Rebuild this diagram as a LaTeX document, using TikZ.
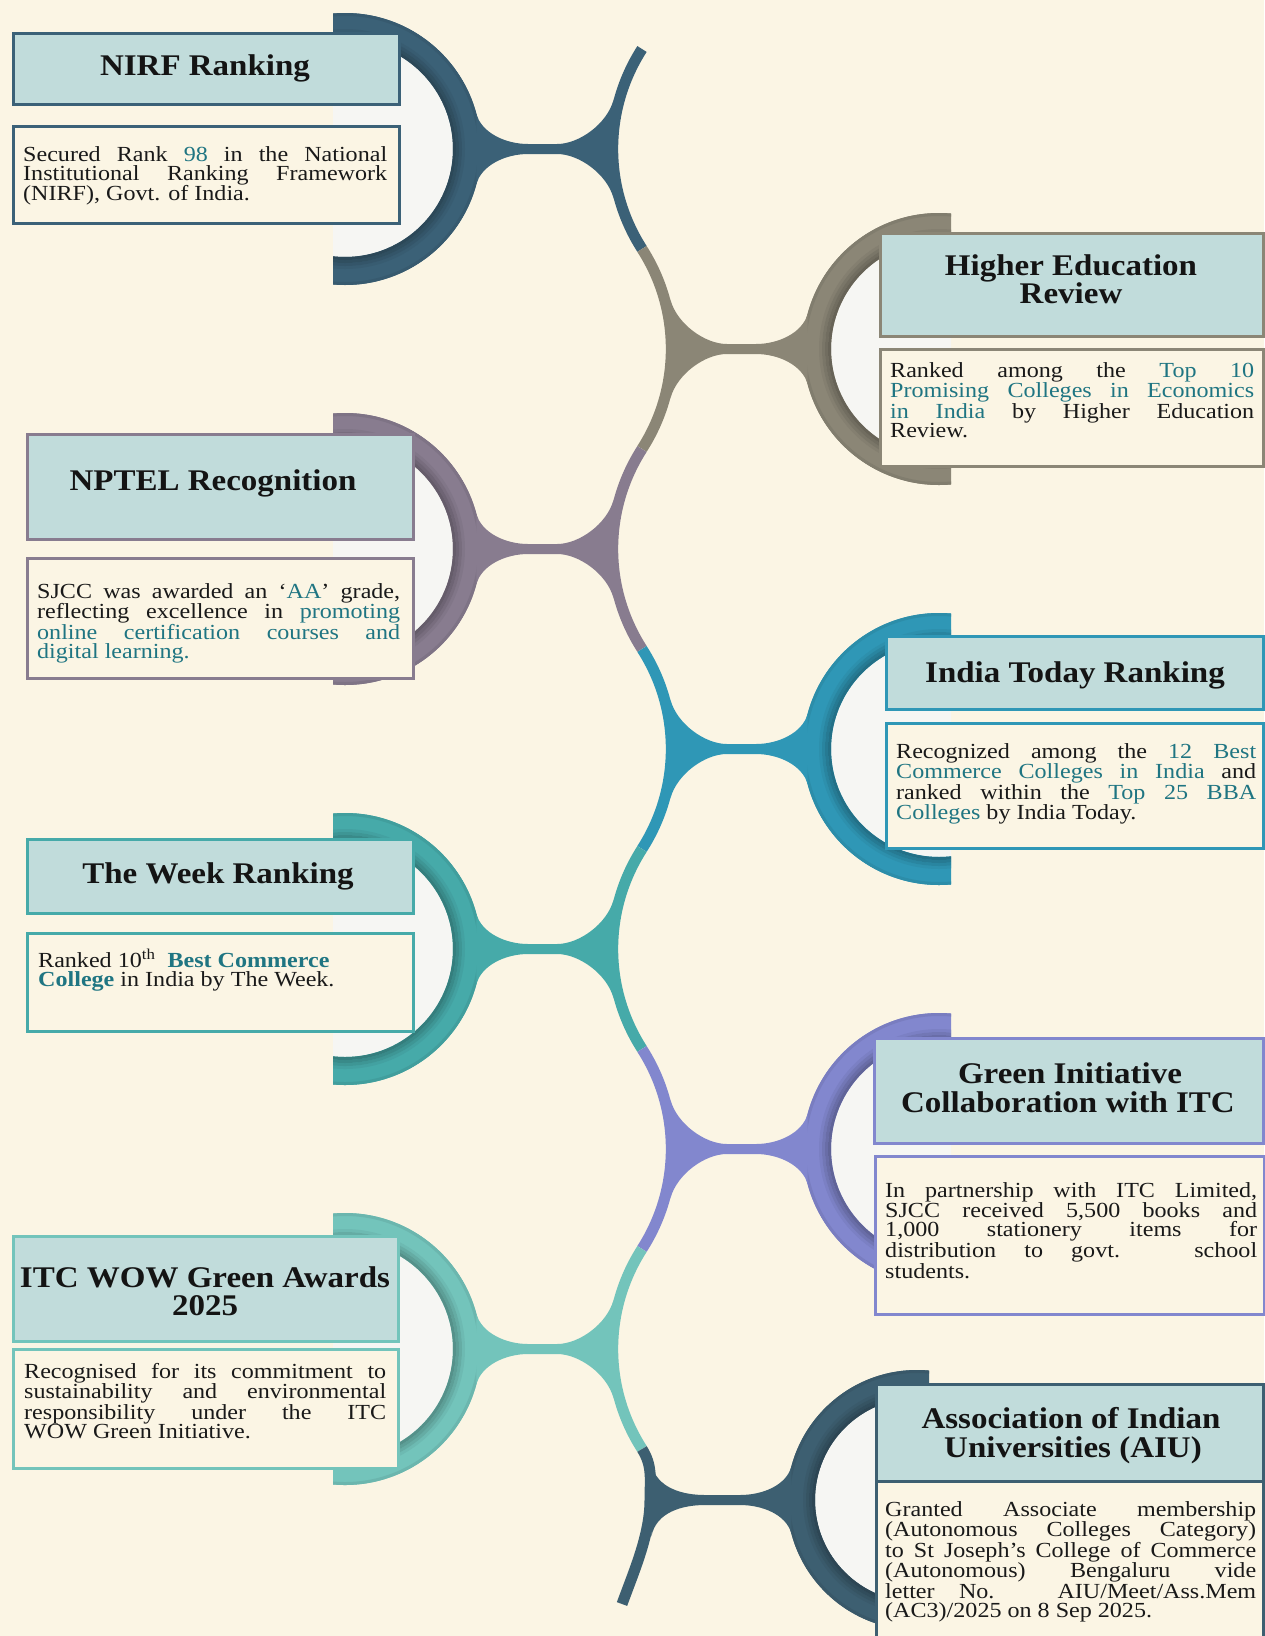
\documentclass[tikz,border=0pt]{standalone}
\usepackage{fontspec}
\setmainfont{Liberation Serif}[FakeStretch=1.12]
\newfontfamily\ttlfont{Liberation Serif}[FakeStretch=1.1]
\usetikzlibrary{calc}
\definecolor{bg}{HTML}{FBF5E4}
\definecolor{disk}{HTML}{F6F6F3}
\definecolor{tfill}{HTML}{C1DCDB}
\definecolor{hlc}{HTML}{1F7582}
\definecolor{cA}{HTML}{3B6177}
\definecolor{cB}{HTML}{8B8676}
\definecolor{cC}{HTML}{887C8F}
\definecolor{cD}{HTML}{2F97B6}
\definecolor{cE}{HTML}{46AAA9}
\definecolor{cF}{HTML}{8287CE}
\definecolor{cG}{HTML}{73C4BB}
\definecolor{cH}{HTML}{3D5F71}
\newcommand\hlt[1]{\textcolor{hlc}{#1}}
\newcommand\desctext[3]{\parbox[t]{#1}{\fontsize{21.5}{#2}\selectfont\tolerance=10000\hyphenpenalty=10000\relax #3}}
% ring in left orientation: cx, cy, Rout, Rin, cut x, colour
\newcommand\ringL[6]{%
  \begin{scope}
    \clip (#5,#2-#3-3) rectangle (#1+#3+3,#2+#3+3);
    \fill[disk] (#1,#2) circle[radius=#4];
    \fill[#6,even odd rule] (#1,#2) circle[radius=#3] (#1,#2) circle[radius=#4];
    \draw[#6!95!black, line width=3pt] (#1,#2) circle[radius=#4+10.5];
    \draw[#6!88!black, line width=3pt] (#1,#2) circle[radius=#4+7.5];
    \draw[#6!81!black, line width=3pt] (#1,#2) circle[radius=#4+4.5];
    \draw[#6!74!black, line width=3pt] (#1,#2) circle[radius=#4+1.5];
    \draw[#6!93!black, line width=3pt] (#1,#2) circle[radius=#3-1.5];
  \end{scope}}
% neck: cy, ring cx, ring R, spine cx, spine edge radius, colour, spine contact angle
\newcommand\neckL[7]{%
  \fill[#6] ($(#2,#1)+(-15:#3)$) .. controls +(75:20) and +(-22,0) .. ($(#2,#1)+(#3+47,-5)$)
    -- ($(#4,#1)+(-#5-50,-5)$) .. controls +(22,0) and +(90+#7:25) .. ($(#4,#1)+(180+#7:#5)$)
    -- ($(#4,#1)+(180-#7:#5)$) .. controls +(-90-#7:25) and +(22,0) .. ($(#4,#1)+(-#5-50,5)$)
    -- ($(#2,#1)+(#3+47,5)$) .. controls +(-22,0) and +(-75:20) .. ($(#2,#1)+(15:#3)$) -- cycle;}
\newcommand\itemL[2]{%
  \ringL{345}{#1}{136}{108}{333}{#2}%
  \neckL{#1}{345}{136}{797.6}{190.5}{#2}{15}%
  \draw[spine,#2] (642,#1-100) arc[start angle=212.7,end angle=147.3,radius=185];}
\tikzset{
  tbox/.style={draw=#1, fill=tfill, line width=3pt, inner sep=0pt, anchor=north west},
  dbox/.style={draw=#1, fill=bg, line width=3pt, inner sep=0pt, anchor=north west},
  spine/.style={line width=11pt, line cap=butt},
  ttl/.style={font=\ttlfont\fontsize{30}{30}\selectfont\bfseries, text=black!92, inner sep=0pt, anchor=base},
  dsc/.style={inner sep=0pt, anchor=base west, text=black!90},
}
\begin{document}
\begin{tikzpicture}[x=1pt,y=-1pt]
\useasboundingbox (0,0) rectangle (1264,1636);
\fill[bg] (0,0) rectangle (1264,1636);
% ---- decorative spine, rings and necks ----
\itemL{149}{cA}
\begin{scope}[shift={(1284,0)},xscale=-1]\itemL{349}{cB}\end{scope}
\itemL{549}{cC}
\begin{scope}[shift={(1284,0)},xscale=-1]\itemL{749}{cD}\end{scope}
\itemL{949}{cE}
\begin{scope}[shift={(1284,0)},xscale=-1]\itemL{1149}{cF}\end{scope}
\itemL{1349}{cG}
\begin{scope}[shift={(1262,0)},xscale=-1]
  \ringL{345}{1500}{130}{102}{333}{cH}
  \neckL{1500}{345}{130}{797.6}{190.5}{cH}{11}
\end{scope}
\draw[spine,cH] (642,1449) .. controls +(10.8,16.8) and +(0,-20) .. (650,1500)
   .. controls +(0,35) and +(12,-33) .. (622,1604);
% ---- boxes ----
\node[tbox=cA, minimum width=386pt, minimum height=71pt] (t1) at (12,32) {};
\node[dbox=cA, minimum width=386pt, minimum height=97pt] (d1) at (12,125) {};
\node[tbox=cB, minimum width=383pt, minimum height=103pt] (t2) at (879,232) {};
\node[dbox=cB, minimum width=383pt, minimum height=117pt] (d2) at (879,348) {};
\node[tbox=cC, minimum width=386pt, minimum height=105pt] (t3) at (26,433) {};
\node[dbox=cC, minimum width=386pt, minimum height=120pt] (d3) at (26,557) {};
\node[tbox=cD, minimum width=377pt, minimum height=73pt] (t4) at (885,635) {};
\node[dbox=cD, minimum width=377pt, minimum height=125pt] (d4) at (885,722) {};
\node[tbox=cE, minimum width=386pt, minimum height=74pt] (t5) at (26,838) {};
\node[dbox=cE, minimum width=386pt, minimum height=98pt] (d5) at (26,932) {};
\node[tbox=cF, minimum width=389pt, minimum height=105pt] (t6) at (873,1037) {};
\node[dbox=cF, minimum width=389pt, minimum height=158pt] (d6) at (874,1155) {};
\node[tbox=cG, minimum width=385pt, minimum height=105pt] (t7) at (12,1235) {};
\node[dbox=cG, minimum width=385pt, minimum height=119pt] (d7) at (12,1348) {};
\node[tbox=cH, minimum width=387pt, minimum height=97pt] (t8) at (875,1383) {};
\node[dbox=cH, minimum width=387pt, minimum height=170pt] (d8) at (875,1480) {};
% ---- titles ----
\node[ttl] (tt1) at (205,75) {NIRF Ranking};
\node[ttl] (tt2a) at (1071,275) {Higher Education};
\node[ttl] (tt2b) at (1071,303) {Review};
\node[ttl] (tt3) at (213,490) {NPTEL Recognition};
\node[ttl] (tt4) at (1075,682) {India Today Ranking};
\node[ttl] (tt5) at (218,883) {The Week Ranking};
\node[ttl] (tt6a) at (1070,1083) {Green Initiative};
\node[ttl] (tt6b) at (1068,1112) {Collaboration with ITC};
\node[ttl] (tt7a) at (205,1287) {ITC WOW Green Awards};
\node[ttl] (tt7b) at (205,1315) {2025};
\node[ttl] (tt8a) at (1071,1428) {Association of Indian};
\node[ttl] (tt8b) at (1073,1457) {Universities (AIU)};
% ---- descriptions ----
\node[dsc] (x1) at (23,161) {\desctext{364pt}{19}{Secured Rank \hlt{98} in the National\linebreak Institutional Ranking Framework\linebreak (NIRF), Govt. of India.}};
\node[dsc] (x2) at (890,377) {\desctext{364pt}{19}{Ranked among the \hlt{Top 10}\linebreak \hlt{Promising Colleges in Economics}\linebreak \hlt{in India} by Higher Education\linebreak Review.}};
\node[dsc] (x3) at (37,598) {\desctext{363pt}{19}{SJCC was awarded an `\hlt{AA}' grade,\linebreak reflecting excellence in \hlt{promoting}\linebreak \hlt{online certification courses and}\linebreak \hlt{digital learning.}}};
\node[dsc] (x4) at (896,758) {\desctext{360pt}{19}{Recognized among the \hlt{12 Best}\linebreak \hlt{Commerce Colleges in India} and\linebreak ranked within the \hlt{Top 25 BBA}\linebreak \hlt{Colleges} by India Today.}};
\node[dsc] (x5) at (38,967) {\desctext{360pt}{19}{\raggedright Ranked 10\textsuperscript{th}\ \ \hlt{\textbf{Best Commerce}}\\ \hlt{\textbf{College}} in India by The Week.}};
\node[dsc] (x6) at (885,1197) {\desctext{372pt}{17.5}{In partnership with ITC Limited,\linebreak SJCC received 5,500 books and\linebreak 1,000 stationery items for\linebreak distribution to govt. school\linebreak students.}};
\node[dsc] (x7) at (24,1378) {\desctext{362pt}{19}{Recognised for its commitment to\linebreak sustainability and environmental\linebreak responsibility under the ITC\linebreak WOW Green Initiative.}};
\node[dsc] (x8) at (885,1516) {\desctext{371pt}{19}{Granted Associate membership\linebreak (Autonomous Colleges Category)\linebreak to St Joseph's College of Commerce\linebreak (Autonomous) Bengaluru vide\linebreak letter No. AIU/Meet/Ass.Mem\linebreak (AC3)/2025 on 8 Sep 2025.}};
\end{tikzpicture}
\end{document}
